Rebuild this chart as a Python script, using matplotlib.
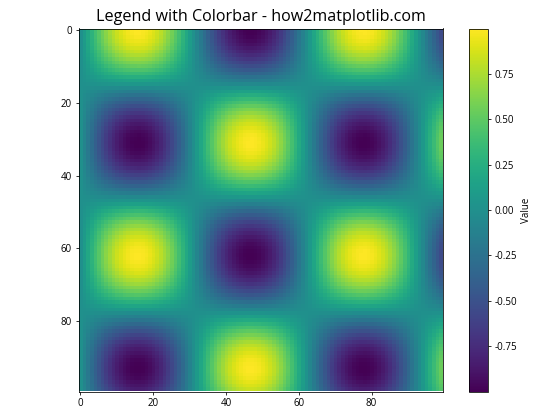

import numpy as np
import matplotlib
matplotlib.use("Agg")
import matplotlib.pyplot as plt


# ─── Data ─────────────────────────────────────────────────────────────────────

# horizontal profile (one value per column)
col_profile = [
    0.000, 0.101, 0.201, 0.298, 0.393, 0.484, 0.570, 0.650, 0.723, 0.789,
    0.847, 0.896, 0.936, 0.967, 0.988, 0.998, 0.999, 0.989, 0.970, 0.940,
    0.901, 0.853, 0.796, 0.730, 0.657, 0.578, 0.493, 0.403, 0.308, 0.210,
    0.111, 0.010, -0.091, -0.190, -0.288, -0.384, -0.475, -0.562, -0.642, -0.716,
    -0.783, -0.842, -0.891, -0.932, -0.964, -0.986, -0.998, -0.999, -0.991, -0.972,
    -0.943, -0.905, -0.858, -0.802, -0.737, -0.665, -0.586, -0.502, -0.412, -0.318,
    -0.220, -0.121, -0.020, 0.081, 0.181, 0.279, 0.374, 0.466, 0.553, 0.635,
    0.709, 0.777, 0.836, 0.887, 0.929, 0.961, 0.984, 0.997, 1.000, 0.992,
    0.974, 0.947, 0.910, 0.863, 0.808, 0.744, 0.672, 0.594, 0.510, 0.421,
    0.327, 0.230, 0.131, 0.031, -0.070, -0.171, -0.269, -0.365, -0.458, -0.544,
]

# vertical profile (one value per row)
row_profile = [
    1.000, 0.995, 0.980, 0.954, 0.919, 0.875, 0.822, 0.760, 0.691, 0.614,
    0.532, 0.444, 0.351, 0.255, 0.156, 0.056, -0.045, -0.146, -0.245, -0.341,
    -0.434, -0.523, -0.606, -0.683, -0.754, -0.816, -0.870, -0.915, -0.951, -0.978,
    -0.994, -1.000, -0.996, -0.982, -0.958, -0.924, -0.880, -0.828, -0.767, -0.698,
    -0.622, -0.540, -0.453, -0.361, -0.265, -0.166, -0.066, 0.035, 0.136, 0.235,
    0.332, 0.425, 0.514, 0.598, 0.676, 0.747, 0.810, 0.865, 0.911, 0.948,
    0.976, 0.993, 1.000, 0.997, 0.983, 0.960, 0.927, 0.885, 0.833, 0.773,
    0.705, 0.630, 0.549, 0.462, 0.370, 0.275, 0.176, 0.076, -0.025, -0.126,
    -0.225, -0.322, -0.416, -0.505, -0.590, -0.669, -0.740, -0.804, -0.860, -0.907,
    -0.945, -0.973, -0.992, -1.000, -0.998, -0.985, -0.963, -0.930, -0.889, -0.839,
]

cbar_ticks = [-0.75, -0.50, -0.25, 0.00, 0.25, 0.50, 0.75]


# ─── Plot ─────────────────────────────────────────────────────────────────────

plt.rcParams["font.family"] = ["Open Sans", "DejaVu Sans"]
plt.rcParams["axes.unicode_minus"] = False

W, H = 560, 420


def px_axes(fig, left, top, right, bottom):
    return fig.add_axes([left / W, 1 - bottom / H, (right - left) / W, (bottom - top) / H])


fig = plt.figure(figsize=(8, 6), dpi=70)
ax = px_axes(fig, 78.5, 28.5, 442.5, 391.5)
cax = px_axes(fig, 469.0, 28.5, 487.5, 391.5)

grid = np.outer(row_profile, col_profile)
im = ax.imshow(grid, cmap="viridis", aspect="auto")
ax.set_xticks(range(0, 100, 20))
ax.set_yticks(range(0, 100, 20))
ax.set_title("Legend with Colorbar - how2matplotlib.com", fontsize=16.6, pad=7.5)

cbar = fig.colorbar(im, cax=cax, label="Value")
cbar.set_ticks(cbar_ticks)
cbar.ax.set_yticklabels([f"{t:.2f}" for t in cbar_ticks])

plt.savefig("out.png", dpi=70)
plt.close()
